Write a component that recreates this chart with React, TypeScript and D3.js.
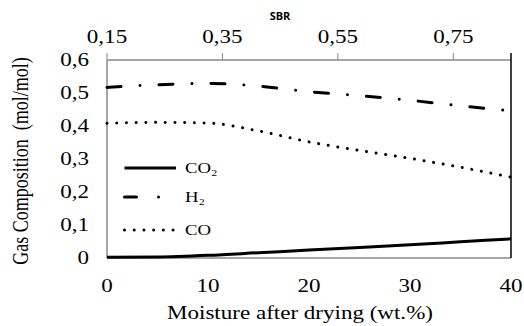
import React from 'react';
import * as d3 from 'd3';

const moisture = [0, 5, 10, 15, 20, 25, 30, 35, 40];
const co2 = [0.002, 0.003, 0.008, 0.016, 0.024, 0.032, 0.040, 0.049, 0.058];
const h2 = [0.517, 0.525, 0.529, 0.521, 0.504, 0.492, 0.478, 0.461, 0.446];
const co = [0.408, 0.411, 0.409, 0.385, 0.352, 0.326, 0.302, 0.275, 0.245];
const yTicks = [0, 0.1, 0.2, 0.3, 0.4, 0.5, 0.6];
const xTicks = [0, 10, 20, 30, 40];
const sbrTicks = [0.15, 0.35, 0.55, 0.75];

const W = 524, H = 326;
const L = 107, R = 511, T = 60, B = 258;
const serif = '"Liberation Serif", "Times New Roman", serif';
const SX = 1.28;

function Txt({ x, y, size, anchor = 'start', children, family = serif, weight, sx = SX }: any) {
  return (
    <text transform={`translate(${x},${y}) scale(${sx},1)`} textAnchor={anchor}
      fontFamily={family} fontSize={size} fontWeight={weight} xmlSpace="preserve">{children}</text>
  );
}

export default function App() {
  const x = d3.scaleLinear().domain([0, 40]).range([L, R]);
  const xs = d3.scaleLinear().domain([0.15, 0.85]).range([L, R]);
  const y = d3.scaleLinear().domain([0, 0.6]).range([B, T]);
  const line = (vals: number[]) =>
    d3.line<number>().x((_, i) => x(moisture[i])).y(d => y(d)).curve(d3.curveMonotoneX)(vals) || '';
  const fmtY = (v: number) => (v === 0 ? '0' : v.toFixed(1).replace('.', ','));
  const fmtS = (v: number) => v.toFixed(2).replace('.', ',');

  const series = [
    { name: 'CO₂', vals: co2, dash: undefined, legendDash: undefined, ly: 168 },
    { name: 'H₂', vals: h2, dash: '14 19 0.01 19', legendDash: '12 22 0.01 19 0.01 100', ly: 197 },
    { name: 'CO', vals: co, dash: '0.01 9.7', legendDash: '0.01 9.7', ly: 230 },
  ];

  return (
    <svg width={W} height={H} style={{ position: 'absolute', left: 0, top: 0, background: '#fff' }}>
      <rect width={W} height={H} fill="#fff" />
      {/* axes */}
      <line x1={L} x2={R} y1={T} y2={T} stroke="#888" strokeWidth={1.5} />
      <line x1={L} x2={L} y1={T} y2={B} stroke="#888" strokeWidth={1.5} />
      <line x1={L} x2={R} y1={B} y2={B} stroke="#888" strokeWidth={1.5} />
      <line x1={R} x2={R} y1={T - 7} y2={B} stroke="#000" strokeWidth={1.5} />
      {sbrTicks.map(t => (
        <g key={t}>
          <line x1={xs(t)} x2={xs(t)} y1={T} y2={T - 7} stroke="#888" strokeWidth={1} />
          <Txt x={xs(t)} y={43} anchor="middle" size={18}>{fmtS(t)}</Txt>
        </g>
      ))}
      <Txt x={280} y={20} anchor="middle" size={10} weight="bold" family='"Open Sans", sans-serif' sx={1.1}>SBR</Txt>
      {yTicks.map(t => (
        <Txt key={t} x={89} y={y(t) + 6} anchor="end" size={18}>{fmtY(t)}</Txt>
      ))}
      {xTicks.map(t => (
        <Txt key={t} x={x(t)} y={292} anchor="middle" size={18}>{String(t)}</Txt>
      ))}
      <Txt x={300} y={319} anchor="middle" size={18}>Moisture after drying (wt.%)</Txt>
      <text transform={`translate(28,161) rotate(-90) scale(1,${SX})`} textAnchor="middle"
        fontFamily={serif} fontSize={18} xmlSpace="preserve">Gas Composition  (mol/mol)</text>
      {/* series */}
      {series.map(s => (
        <path key={s.name} d={line(s.vals)} fill="none" stroke="#000" strokeWidth={3}
          strokeDasharray={s.dash} strokeLinecap={s.dash ? 'round' : 'butt'} />
      ))}
      {/* legend */}
      {series.map(s => (
        <g key={'lg' + s.name}>
          <line x1={124.5} x2={176} y1={s.ly} y2={s.ly} stroke="#000" strokeWidth={3}
            strokeDasharray={s.legendDash} strokeLinecap={s.legendDash ? 'round' : 'butt'} />
          <Txt x={185} y={s.ly + 5} size={15} sx={1.25}>{s.name}</Txt>
        </g>
      ))}
    </svg>
  );
}
